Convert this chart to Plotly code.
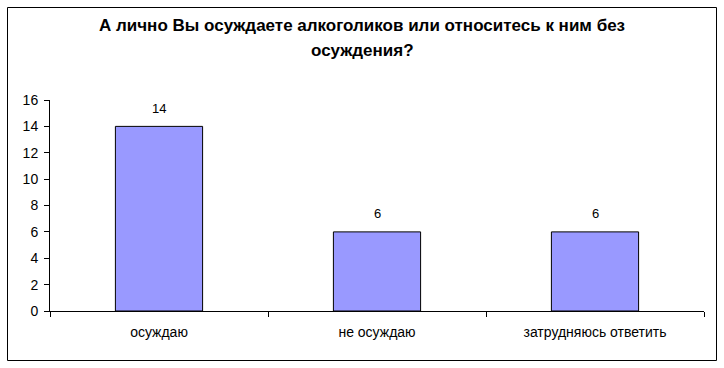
import plotly.graph_objects as go

categories = ["осуждаю", "не осуждаю", "затрудняюсь ответить"]
values = [14, 6, 6]
y_ticks = [0, 2, 4, 6, 8, 10, 12, 14, 16]
title_lines = ["А лично Вы осуждаете алкоголиков или относитесь к ним без", "осуждения?"]

W, H = 724, 368
L, R, T, B = 50, 20, 100, 57

fig = go.Figure(go.Bar(
    x=categories, y=values,
    marker=dict(color="#9999FF", line=dict(color="black", width=1)),
))

pw = W - L - R
ph = H - T - B
def px_x(x):
    return (x - L) / pw
def px_y(y):
    return (H - B - y) / ph

annotations = [
    dict(text="<b>" + title_lines[0] + "</b>", xref="paper", yref="paper",
         x=px_x(362), y=px_y(26), showarrow=False, xanchor="center", yanchor="middle",
         font=dict(size=17, color="black")),
    dict(text="<b>" + title_lines[1] + "</b>", xref="paper", yref="paper",
         x=px_x(362), y=px_y(51), showarrow=False, xanchor="center", yanchor="middle",
         font=dict(size=17, color="black")),
]
for c, v in zip(categories, values):
    annotations.append(dict(text=str(v), x=c, y=v, xref="x", yref="y", showarrow=False,
                            yanchor="middle", yshift=18, font=dict(size=13, color="black")))

fig.update_layout(
    width=W, height=H,
    margin=dict(l=L, r=R, t=T, b=B),
    paper_bgcolor="white", plot_bgcolor="white",
    bargap=0.6,
    showlegend=False,
    font=dict(family="Liberation Sans, Arial, sans-serif", size=14, color="black"),
    shapes=[dict(type="rect", xref="paper", yref="paper",
                 x0=px_x(7.5), x1=px_x(716.5), y0=px_y(7.5), y1=px_y(360.5),
                 line=dict(color="black", width=1), fillcolor="rgba(0,0,0,0)", layer="below")],
    annotations=annotations,
)
fig.update_yaxes(range=[0, 16], tickvals=y_ticks, showgrid=False, zeroline=False,
                 showline=True, linecolor="black", linewidth=1,
                 ticks="outside", ticklen=5, tickcolor="black", tickwidth=1,
                 ticklabelstandoff=3)
fig.update_xaxes(showgrid=False, showline=True, linecolor="black", linewidth=1,
                 ticks="outside", tickson="boundaries", ticklen=5, tickcolor="black", tickwidth=1,
                 ticklabelstandoff=8)

fig.write_html("out.html", config={"displayModeBar": False},
               post_script="document.body.style.margin='0';document.body.style.padding='0';")
